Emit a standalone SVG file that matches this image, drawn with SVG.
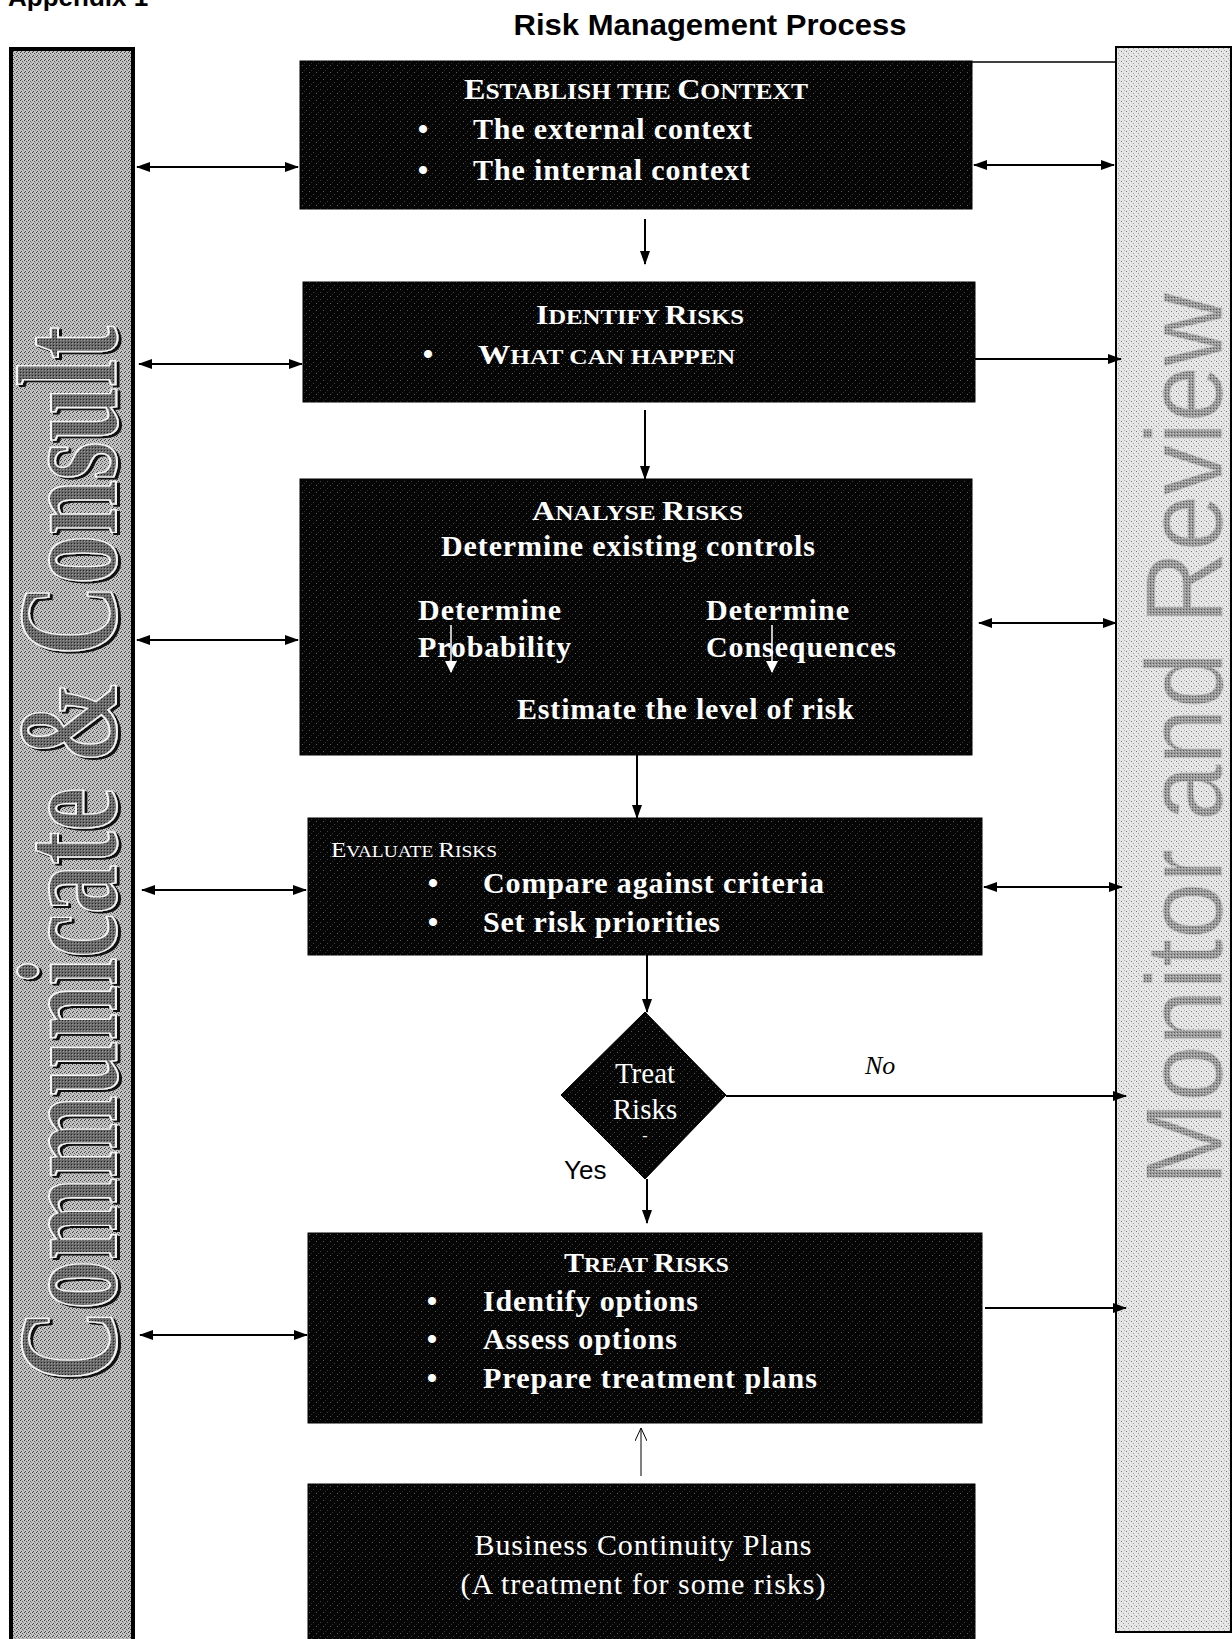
<svg xmlns="http://www.w3.org/2000/svg" width="1232" height="1639" viewBox="0 0 1232 1639">
<style>
.s{font-family:"Liberation Serif","Times New Roman",serif;fill:#fff}
.bd{font-weight:bold}
.sans{font-family:"Liberation Sans",Arial,sans-serif;fill:#000}
.ln{stroke:#000;stroke-width:2;fill:none}
.box{fill:url(#boxTex);stroke:#000;stroke-width:1}
</style>
<defs>
<pattern id="boxTex" width="7" height="7" patternUnits="userSpaceOnUse">
<rect width="7" height="7" fill="#050505"/>
<rect x="1" y="2" width="1" height="1" fill="#5a5a5a"/>
<rect x="5" y="5" width="1" height="1" fill="#404040"/>
<rect x="3" y="0" width="1" height="1" fill="#2e2e2e"/>
</pattern>
<pattern id="leftTex" width="4" height="4" patternUnits="userSpaceOnUse">
<rect width="4" height="4" fill="#c4c4c4"/>
<rect x="0" y="0" width="1" height="1" fill="#3a3a3a"/>
<rect x="2" y="1" width="1" height="1" fill="#5a5a5a"/>
<rect x="1" y="3" width="1" height="1" fill="#4a4a4a"/>
<rect x="3" y="2" width="1" height="1" fill="#8a8a8a"/>
</pattern>
<pattern id="letterTex" width="3" height="3" patternUnits="userSpaceOnUse">
<rect width="3" height="3" fill="#6a6a6a"/>
<rect x="0" y="0" width="1" height="1" fill="#222"/>
<rect x="2" y="1" width="1" height="1" fill="#999"/>
</pattern>
<pattern id="rightTex" width="5" height="5" patternUnits="userSpaceOnUse">
<rect width="5" height="5" fill="#e6e6e6"/>
<rect x="1" y="1" width="1" height="1" fill="#7a7a7a"/>
<rect x="3" y="3" width="1" height="1" fill="#a0a0a0"/>
<rect x="4" y="0" width="1" height="1" fill="#b5b5b5"/>
</pattern>
<pattern id="rLetterTex" width="3" height="3" patternUnits="userSpaceOnUse">
<rect width="3" height="3" fill="#9a9a9a"/>
<rect x="0" y="0" width="1" height="1" fill="#555"/>
<rect x="2" y="2" width="1" height="1" fill="#ccc"/>
</pattern>
<filter id="emb" x="-10%" y="-10%" width="120%" height="120%">
<feDropShadow dx="3" dy="2" stdDeviation="0.6" flood-color="#000" flood-opacity="0.9"/>
</filter>
<marker id="ah" viewBox="0 0 14 10" refX="13" refY="5" markerWidth="14" markerHeight="10" markerUnits="userSpaceOnUse" orient="auto-start-reverse">
<path d="M0,0 L14,5 L0,10 z" fill="#000"/>
</marker>
<marker id="ahw" viewBox="0 0 12 14" refX="11" refY="7" markerWidth="12" markerHeight="14" markerUnits="userSpaceOnUse" orient="auto">
<path d="M0,1 L12,7 L0,13 z" fill="#fff"/>
</marker>
<marker id="aho" viewBox="0 0 14 12" refX="13" refY="6" markerWidth="14" markerHeight="12" markerUnits="userSpaceOnUse" orient="auto">
<path d="M0,0 L13,6 L0,12" fill="none" stroke="#000" stroke-width="1"/>
</marker>
</defs>
<rect width="1232" height="1639" fill="#fff"/>

<text class="sans" x="8" y="6" font-size="26" font-weight="bold">Appendix 1</text>
<text class="sans" x="710" y="35" font-size="29" font-weight="bold" text-anchor="middle" textLength="393" lengthAdjust="spacingAndGlyphs">Risk Management Process</text>

<g id="communicate-consult">
<rect x="11" y="49" width="122" height="1600" fill="url(#leftTex)" stroke="#000" stroke-width="4"/>
<g filter="url(#emb)">
<text transform="translate(116,1381) rotate(-90)" x="0" y="0" font-family="Liberation Serif,Times New Roman,serif" font-weight="bold" font-size="142" fill="url(#letterTex)" stroke="#f4f4f4" stroke-width="2" textLength="1055" lengthAdjust="spacingAndGlyphs">Communicate &amp; Consult</text>
</g>
</g>

<g id="monitor-review">
<rect x="1116" y="47" width="115" height="1585" fill="url(#rightTex)" stroke="#000" stroke-width="2"/>
<text transform="translate(1222,1186) rotate(-90)" x="0" y="0" font-family="Liberation Sans,Arial,sans-serif" font-size="110" fill="url(#rLetterTex)" stroke="#d0d0d0" stroke-width="1" textLength="893" lengthAdjust="spacingAndGlyphs">Monitor and Review</text>
</g>

<g id="establish-context">
<rect class="box" x="300" y="61" width="672" height="148"/>
<text class="s bd" x="464" y="99" textLength="344" lengthAdjust="spacingAndGlyphs"><tspan font-size="29">E</tspan><tspan font-size="23">STABLISH THE </tspan><tspan font-size="29">C</tspan><tspan font-size="23">ONTEXT</tspan></text>
<text class="s bd" x="423" y="139" font-size="30" text-anchor="middle">•</text>
<text class="s bd" x="473" y="139" font-size="30" textLength="279" lengthAdjust="spacing">The external context</text>
<text class="s bd" x="423" y="180" font-size="30" text-anchor="middle">•</text>
<text class="s bd" x="473" y="180" font-size="30" textLength="277" lengthAdjust="spacing">The internal context</text>
</g>

<g id="identify-risks">
<rect class="box" x="303" y="282" width="672" height="120"/>
<text class="s bd" x="536" y="324" textLength="208" lengthAdjust="spacingAndGlyphs"><tspan font-size="28">I</tspan><tspan font-size="22">DENTIFY </tspan><tspan font-size="28">R</tspan><tspan font-size="22">ISKS</tspan></text>
<text class="s bd" x="428" y="364" font-size="30" text-anchor="middle">•</text>
<text class="s bd" x="478" y="364" textLength="257" lengthAdjust="spacingAndGlyphs"><tspan font-size="28">W</tspan><tspan font-size="22">HAT CAN HAPPEN</tspan></text>
</g>

<g id="analyse-risks">
<rect class="box" x="300" y="479" width="672" height="276"/>
<text class="s bd" x="532" y="520" textLength="211" lengthAdjust="spacingAndGlyphs"><tspan font-size="28">A</tspan><tspan font-size="22">NALYSE </tspan><tspan font-size="28">R</tspan><tspan font-size="22">ISKS</tspan></text>
<text class="s bd" x="441" y="556" font-size="30" textLength="374" lengthAdjust="spacing">Determine existing controls</text>
<text class="s bd" x="418" y="620" font-size="30" textLength="143" lengthAdjust="spacing">Determine</text>
<text class="s bd" x="418" y="657" font-size="30" textLength="153" lengthAdjust="spacing">Probability</text>
<text class="s bd" x="706" y="620" font-size="30" textLength="143" lengthAdjust="spacing">Determine</text>
<text class="s bd" x="706" y="657" font-size="30" textLength="190" lengthAdjust="spacing">Consequences</text>
<text class="s bd" x="517" y="719" font-size="30" textLength="337" lengthAdjust="spacing">Estimate the level of risk</text>
<line x1="451" y1="625" x2="451" y2="672" stroke="#fff" stroke-width="1.5" marker-end="url(#ahw)"/>
<line x1="772" y1="625" x2="772" y2="672" stroke="#fff" stroke-width="1.5" marker-end="url(#ahw)"/>
</g>

<g id="evaluate-risks">
<rect class="box" x="308" y="818" width="674" height="137"/>
<text class="s" x="331" y="857" textLength="166" lengthAdjust="spacingAndGlyphs"><tspan font-size="22">E</tspan><tspan font-size="17">VALUATE </tspan><tspan font-size="22">R</tspan><tspan font-size="17">ISKS</tspan></text>
<text class="s bd" x="433" y="893" font-size="30" text-anchor="middle">•</text>
<text class="s bd" x="483" y="893" font-size="30" textLength="341" lengthAdjust="spacing">Compare against criteria</text>
<text class="s bd" x="433" y="932" font-size="30" text-anchor="middle">•</text>
<text class="s bd" x="483" y="932" font-size="30" textLength="237" lengthAdjust="spacing">Set risk priorities</text>
</g>

<g id="treat-decision">
<polygon points="645,1012 726,1095 645,1179 561,1095" fill="url(#boxTex)" stroke="#000" stroke-width="1"/>
<text class="s" x="645" y="1083" font-size="29" text-anchor="middle">Treat</text>
<text class="s" x="645" y="1119" font-size="29" text-anchor="middle">Risks</text>
<text class="s" x="645" y="1141" font-size="16" text-anchor="middle">-</text>
</g>

<g id="treat-risks">
<rect class="box" x="308" y="1233" width="674" height="190"/>
<text class="s bd" x="564" y="1272" textLength="165" lengthAdjust="spacingAndGlyphs"><tspan font-size="28">T</tspan><tspan font-size="22">REAT </tspan><tspan font-size="28">R</tspan><tspan font-size="22">ISKS</tspan></text>
<text class="s bd" x="432" y="1311" font-size="30" text-anchor="middle">•</text>
<text class="s bd" x="483" y="1311" font-size="30" textLength="215" lengthAdjust="spacing">Identify options</text>
<text class="s bd" x="432" y="1349" font-size="30" text-anchor="middle">•</text>
<text class="s bd" x="483" y="1349" font-size="30" textLength="194" lengthAdjust="spacing">Assess options</text>
<text class="s bd" x="432" y="1388" font-size="30" text-anchor="middle">•</text>
<text class="s bd" x="483" y="1388" font-size="30" textLength="334" lengthAdjust="spacing">Prepare treatment plans</text>
</g>

<g id="business-continuity">
<rect class="box" x="308" y="1484" width="667" height="165"/>
<text class="s" x="643" y="1555" font-size="30" text-anchor="middle" textLength="337" lengthAdjust="spacing">Business Continuity Plans</text>
<text class="s" x="643" y="1594" font-size="30" text-anchor="middle" textLength="365" lengthAdjust="spacing">(A treatment for some risks)</text>
</g>

<g id="connectors">
<line class="ln" x1="137" y1="167" x2="298" y2="167" marker-start="url(#ah)" marker-end="url(#ah)"/>
<line class="ln" x1="139" y1="364" x2="302" y2="364" marker-start="url(#ah)" marker-end="url(#ah)"/>
<line class="ln" x1="137" y1="640" x2="298" y2="640" marker-start="url(#ah)" marker-end="url(#ah)"/>
<line class="ln" x1="142" y1="890" x2="306" y2="890" marker-start="url(#ah)" marker-end="url(#ah)"/>
<line class="ln" x1="140" y1="1335" x2="307" y2="1335" marker-start="url(#ah)" marker-end="url(#ah)"/>

<line x1="972" y1="62" x2="1116" y2="62" stroke="#000" stroke-width="1.5"/>
<line class="ln" x1="974" y1="165" x2="1114" y2="165" marker-start="url(#ah)" marker-end="url(#ah)"/>
<line class="ln" x1="975" y1="359" x2="1121" y2="359" marker-end="url(#ah)"/>
<line class="ln" x1="979" y1="623" x2="1116" y2="623" marker-start="url(#ah)" marker-end="url(#ah)"/>
<line class="ln" x1="984" y1="887" x2="1122" y2="887" marker-start="url(#ah)" marker-end="url(#ah)"/>
<line class="ln" x1="726" y1="1096" x2="1126" y2="1096" marker-end="url(#ah)"/>
<line class="ln" x1="985" y1="1308" x2="1126" y2="1308" marker-end="url(#ah)"/>

<line class="ln" x1="645" y1="219" x2="645" y2="264" marker-end="url(#ah)"/>
<line class="ln" x1="645" y1="410" x2="645" y2="479" marker-end="url(#ah)"/>
<line class="ln" x1="637" y1="755" x2="637" y2="818" marker-end="url(#ah)"/>
<line class="ln" x1="647" y1="955" x2="647" y2="1012" marker-end="url(#ah)"/>
<line class="ln" x1="647" y1="1179" x2="647" y2="1223" marker-end="url(#ah)"/>
<line x1="641" y1="1476" x2="641" y2="1428" stroke="#000" stroke-width="1" marker-end="url(#aho)"/>

<text x="865" y="1074" font-family="Liberation Serif,Times New Roman,serif" font-style="italic" font-size="26" fill="#000">No</text>
<text class="sans" x="564" y="1179" font-size="26">Yes</text>
</g>
</svg>
